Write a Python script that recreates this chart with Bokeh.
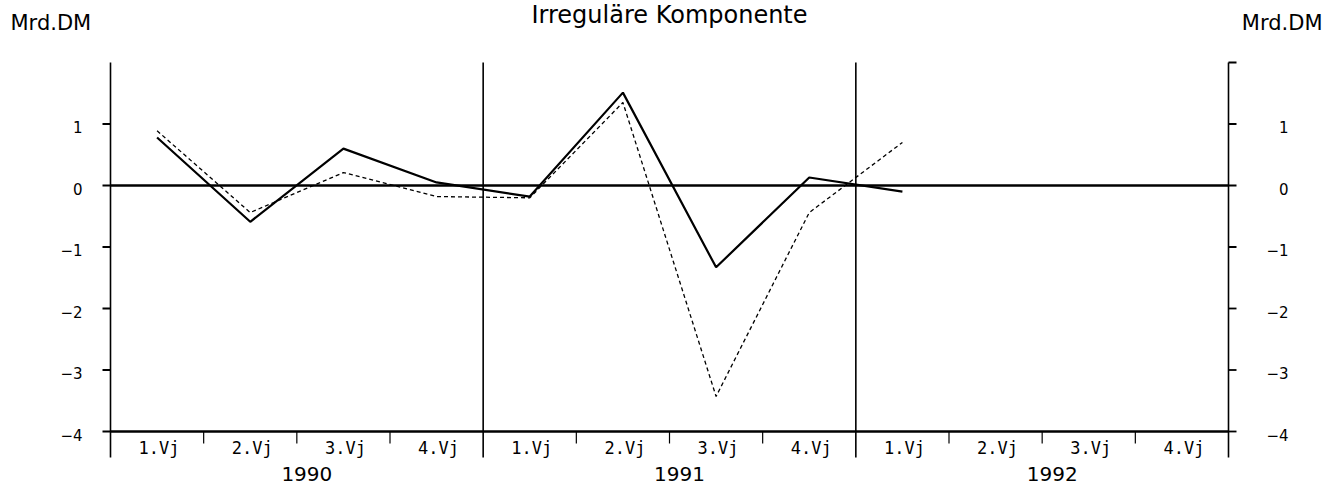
from bokeh.plotting import figure
from bokeh.models import Range1d
from bokeh.core.properties import value
from bokeh.embed import file_html
from bokeh.resources import INLINE

# ---------------- data ----------------
years = ["1990", "1991", "1992"]
quarter_labels = ["1.Vj", "2.Vj", "3.Vj", "4.Vj"]
y_ticks = [-4, -3, -2, -1, 0, 1]
y_tick_labels = ["\u22124", "\u22123", "\u22122", "\u22121", "0", "1"]
# values per quarter, starting 1.Vj 1990
series_solid = [0.78, -0.59, 0.60, 0.05, -0.18, 1.51, -1.33, 0.13, -0.10]
series_dashed = [0.89, -0.44, 0.21, -0.18, -0.20, 1.35, -3.43, -0.44, 0.70]
title_text = "Irregul\u00e4re Komponente"
unit_text = "Mrd.DM"

# ---------------- layout ----------------
W, H = 1326, 486
n_q = len(years) * len(quarter_labels)
y_lo, y_hi = y_ticks[0], 2
# plot box in pixels (left, right, top, bottom)
BL, BR, BT, BB = 110, 1228, 62, 431
KX = (BR - BL) / n_q
KY = (BB - BT) / (y_hi - y_lo)

def dx(px):
    return px / KX

def dy(px):
    return px / KY

p = figure(width=W, height=H, output_backend="svg", toolbar_location=None,
           x_range=Range1d(-BL / KX, n_q + (W - BR) / KX),
           y_range=Range1d(y_lo - (H - BB) / KY, y_hi + BT / KY),
           x_axis_type=None, y_axis_type=None, min_border=0,
           min_border_left=0, min_border_right=0, min_border_top=0, min_border_bottom=0)
p.outline_line_color = None
p.background_fill_color = "white"
p.border_fill_color = "white"
p.xgrid.visible = False
p.ygrid.visible = False

q_per_y = len(quarter_labels)
year_bounds = [i * q_per_y for i in range(len(years) + 1)]
q_bounds = [b for b in range(n_q + 1) if b % q_per_y != 0]

# vertical axes / year separators (extend below the base line)
p.segment(x0=year_bounds, y0=[y_hi] * len(year_bounds),
          x1=year_bounds, y1=[y_lo - dy(26)] * len(year_bounds),
          line_color="black", line_width=1.6)
# quarter ticks below base line
p.segment(x0=q_bounds, y0=[y_lo] * len(q_bounds),
          x1=q_bounds, y1=[y_lo - dy(12)] * len(q_bounds),
          line_color="black", line_width=1.2)
# base line and zero line
p.segment(x0=[0, 0], y0=[y_lo, 0], x1=[n_q, n_q], y1=[y_lo, 0],
          line_color="black", line_width=2.5)
# left ticks
p.segment(x0=[0] * len(y_ticks), y0=y_ticks, x1=[-dx(8)] * len(y_ticks), y1=y_ticks,
          line_color="black", line_width=1.8)
# right ticks (incl. top)
r_ticks = y_ticks + [y_hi]
p.segment(x0=[n_q] * len(r_ticks), y0=r_ticks, x1=[n_q + dx(8)] * len(r_ticks), y1=r_ticks,
          line_color="black", line_width=1.8)

# series
xs = [i + 0.5 for i in range(len(series_solid))]
p.line(xs, series_dashed, line_color="black", line_width=1.3, line_dash="4 3")
p.line(xs, series_solid, line_color="black", line_width=2.2)

# y tick labels
p.text(x=[0] * len(y_ticks), y=y_ticks, text=y_tick_labels,
       text_font=value("DejaVu Sans"), text_font_size="15px", text_color="black",
       text_align="right", text_baseline="middle", x_offset=-28, y_offset=3)
p.text(x=[n_q] * len(y_ticks), y=y_ticks, text=y_tick_labels,
       text_font=value("DejaVu Sans"), text_font_size="15px", text_color="black",
       text_align="right", text_baseline="middle", x_offset=60, y_offset=3)

# quarter labels
centers = [i + 0.5 for i in range(n_q)]
p.text(x=centers, y=[y_lo] * n_q, text=[quarter_labels[i % q_per_y] for i in range(n_q)],
       text_font=value("DejaVu Sans Mono"), text_font_size="17px", text_color="black",
       text_align="center", text_baseline="middle", x_offset=2, y_offset=16)

# year labels
year_centers = [b + q_per_y / 2 for b in year_bounds[:-1]]
p.text(x=year_centers, y=[y_lo] * len(years), text=years,
       text_font=value("DejaVu Sans"), text_font_size="20px", text_color="black",
       text_align="center", text_baseline="middle", x_offset=10, y_offset=42)

# title and unit labels
p.text(x=[n_q / 2], y=[y_hi], text=[title_text],
       text_font=value("DejaVu Sans"), text_font_size="24px", text_color="black",
       text_align="center", text_baseline="middle", y_offset=-48)
p.text(x=[0], y=[y_hi], text=[unit_text],
       text_font=value("DejaVu Sans"), text_font_size="21px", text_color="black",
       text_align="left", text_baseline="middle", x_offset=-100, y_offset=-40)
p.text(x=[n_q], y=[y_hi], text=[unit_text],
       text_font=value("DejaVu Sans"), text_font_size="21px", text_color="black",
       text_align="right", text_baseline="middle", x_offset=94, y_offset=-40)

open("out.html", "w").write(file_html(p, INLINE))
